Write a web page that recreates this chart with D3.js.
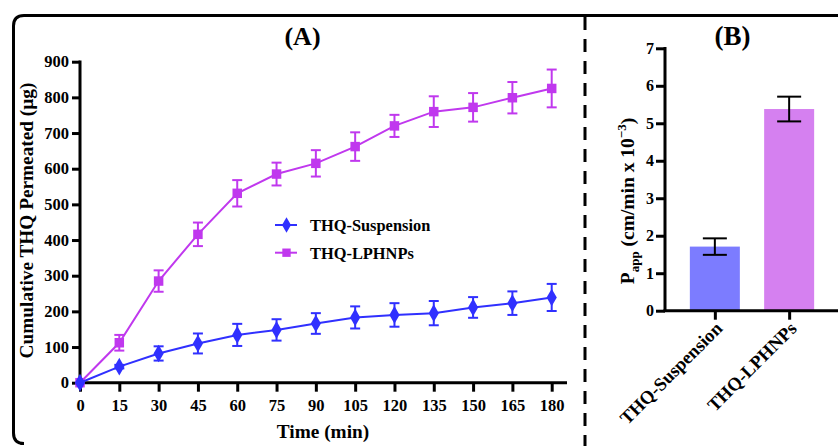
<!DOCTYPE html>
<html>
<head>
<script src="https://d3js.org/d3.v7.min.js"></script>
<style>
  body { margin: 0; background: #fff; }
  text { font-family: "Liberation Serif", "Times New Roman", serif; font-weight: bold; fill: #000; }
</style>
</head>
<body>
<svg width="838" height="446"></svg>
<script>
// Panel A data (cumulative THQ permeated, ug)
var times = [0, 15, 30, 45, 60, 75, 90, 105, 120, 135, 150, 165, 180];
var suspension = [0, 45, 82, 110, 134, 148, 166, 183, 190, 195, 211, 223, 239];
var suspensionErr = [0, 5, 20, 28, 31, 30, 29, 31, 33, 34, 29, 33, 38];
var lphnps = [0, 112, 285, 416, 531, 585, 615, 662, 720, 760, 772, 799, 825];
var lphnpsErr = [0, 22, 30, 33, 37, 32, 37, 40, 31, 43, 40, 44, 53];
var yTicksA = [0, 100, 200, 300, 400, 500, 600, 700, 800, 900];

// Panel B data (Papp, cm/min x 10^-3)
var formulations = ["THQ-Suspension", "THQ-LPHNPs"];
var papp = [1.71, 5.38];
var pappErr = [0.22, 0.33];
var yTicksB = [0, 1, 2, 3, 4, 5, 6, 7];

var blue = "#3030ff", purple = "#c038ee";
var barColors = ["#7c7cff", "#d580f0"];

var svg = d3.select("svg");

// outer frame and divider
svg.append("path")
    .attr("d", "M 850 15.5 L 24 15.5 Q 13.5 15.5 13.5 26 L 13.5 433 Q 13.5 443.5 24 443.5 L 20 443.5")
    .attr("fill", "none").attr("stroke", "#000").attr("stroke-width", 3);
svg.append("line")
    .attr("x1", 585).attr("x2", 585).attr("y1", 17).attr("y2", 446)
    .attr("stroke", "#000").attr("stroke-width", 3).attr("stroke-dasharray", "13,9");

// ---------- Panel A ----------
var x = d3.scaleLinear().domain([0, 180]).range([80, 551.7]);
var y = d3.scaleLinear().domain([0, 900]).range([382.7, 61.7]);

var gA = svg.append("g");

// axes
var xAxis = gA.append("g").attr("transform", "translate(0,382.7)")
    .call(d3.axisBottom(x).tickValues(times).tickSize(9).tickPadding(8));
xAxis.select(".domain").attr("d", "M78,0H567");
var yAxis = gA.append("g").attr("transform", "translate(80,0)")
    .call(d3.axisLeft(y).tickValues(yTicksA).tickSize(8).tickPadding(3));
yAxis.select(".domain").attr("d", "M0,384H0V60.5");
[xAxis, yAxis].forEach(function (a) {
  a.selectAll("path, line").attr("stroke", "#000").attr("stroke-width", 3);
  a.selectAll("text").attr("font-size", 16.5).attr("font-family", "Liberation Serif").attr("font-weight", "bold").attr("fill", "#000");
});

gA.append("text").attr("x", 302.5).attr("y", 45).attr("text-anchor", "middle")
    .attr("font-size", 26).text("(A)");
gA.append("text").attr("x", 323).attr("y", 438).attr("text-anchor", "middle")
    .attr("font-size", 19.3).text("Time (min)");
gA.append("text").attr("transform", "translate(33,220.5) rotate(-90)")
    .attr("text-anchor", "middle").attr("font-size", 19.3)
    .text("Cumulative THQ Permeated (\u00b5g)");

function drawSeries(vals, errs, color, symbol, size) {
  var pts = times.map(function (t, i) { return { t: t, v: vals[i], e: errs[i] }; });
  var g = gA.append("g");
  g.append("path").datum(pts)
      .attr("fill", "none").attr("stroke", color).attr("stroke-width", 2)
      .attr("d", d3.line().x(function (d) { return x(d.t); }).y(function (d) { return y(d.v); }));
  var eb = g.selectAll(".eb").data(pts.filter(function (d) { return d.e > 0; })).enter().append("g")
      .attr("stroke", color).attr("stroke-width", 2);
  eb.append("line").attr("x1", function (d) { return x(d.t); }).attr("x2", function (d) { return x(d.t); })
      .attr("y1", function (d) { return y(d.v + d.e); }).attr("y2", function (d) { return y(d.v - d.e); });
  [1, -1].forEach(function (s) {
    eb.append("line").attr("x1", function (d) { return x(d.t) - 5; }).attr("x2", function (d) { return x(d.t) + 5; })
        .attr("y1", function (d) { return y(d.v + s * d.e); }).attr("y2", function (d) { return y(d.v + s * d.e); });
  });
  g.selectAll(".m").data(pts).enter().append("path")
      .attr("transform", function (d) { return "translate(" + x(d.t) + "," + y(d.v) + ")"; })
      .attr("d", d3.symbol().type(symbol).size(size))
      .attr("fill", color);
}
drawSeries(lphnps, lphnpsErr, purple, d3.symbolSquare, 90);
drawSeries(suspension, suspensionErr, blue, d3.symbolDiamond, 90);

// legend
var legend = [["THQ-Suspension", blue, d3.symbolDiamond], ["THQ-LPHNPs", purple, d3.symbolSquare]];
legend.forEach(function (l, i) {
  var ly = 225 + i * 27.7;
  gA.append("line").attr("x1", 275).attr("x2", 297).attr("y1", ly).attr("y2", ly)
      .attr("stroke", l[1]).attr("stroke-width", 2);
  gA.append("path").attr("transform", "translate(286.5," + ly + ")")
      .attr("d", d3.symbol().type(l[2]).size(70)).attr("fill", l[1]);
  gA.append("text").attr("x", 310).attr("y", ly + 6).attr("font-size", 16.4).text(l[0]);
});

// ---------- Panel B ----------
var xb = d3.scalePoint().domain(formulations).range([665, 839]).padding(0.671);
var yb = d3.scaleLinear().domain([0, 7]).range([310.7, 48.3]);
var barW = 50;
var gB = svg.append("g");

gB.selectAll(".bar").data(formulations).enter().append("rect")
    .attr("x", function (d) { return xb(d) - barW / 2; })
    .attr("width", barW)
    .attr("y", function (d, i) { return yb(papp[i]); })
    .attr("height", function (d, i) { return yb(0) - yb(papp[i]); })
    .attr("fill", function (d, i) { return barColors[i]; });

var ebB = gB.selectAll(".ebb").data(formulations).enter().append("g")
    .attr("stroke", "#000").attr("stroke-width", 2);
ebB.append("line").attr("x1", function (d) { return xb(d); }).attr("x2", function (d) { return xb(d); })
    .attr("y1", function (d, i) { return yb(papp[i] + pappErr[i]); })
    .attr("y2", function (d, i) { return yb(papp[i] - pappErr[i]); });
[1, -1].forEach(function (s) {
  ebB.append("line").attr("x1", function (d) { return xb(d) - 12; }).attr("x2", function (d) { return xb(d) + 12; })
      .attr("y1", function (d, i) { return yb(papp[i] + s * pappErr[i]); })
      .attr("y2", function (d, i) { return yb(papp[i] + s * pappErr[i]); });
});

var xbAxis = gB.append("g").attr("transform", "translate(0,310.7)")
    .call(d3.axisBottom(xb).tickSize(9).tickFormat(""));
xbAxis.select(".domain").attr("d", "M663.5,0H840");
var ybAxis = gB.append("g").attr("transform", "translate(665,0)")
    .call(d3.axisLeft(yb).tickValues(yTicksB).tickFormat(d3.format("d")).tickSize(9).tickPadding(2));
ybAxis.select(".domain").attr("d", "M0,312H0V47");
[xbAxis, ybAxis].forEach(function (a) {
  a.selectAll("path, line").attr("stroke", "#000").attr("stroke-width", 3);
  a.selectAll("text").attr("font-size", 16).attr("font-family", "Liberation Serif").attr("font-weight", "bold").attr("fill", "#000");
});

gB.selectAll(".xl").data(formulations).enter().append("text")
    .attr("transform", function (d) { return "translate(" + (xb(d) + 4) + ",325) rotate(-45)"; })
    .attr("text-anchor", "end").attr("dy", "0.35em").attr("font-size", 18.5)
    .text(function (d) { return d; });

gB.append("text").attr("x", 732.5).attr("y", 45).attr("text-anchor", "middle")
    .attr("font-size", 27).text("(B)");

var yl = gB.append("text").attr("transform", "translate(634,201) rotate(-90)")
    .attr("text-anchor", "middle").attr("font-size", 19.5);
yl.append("tspan").text("P");
yl.append("tspan").attr("font-size", 13).attr("dy", 5).text("app");
yl.append("tspan").attr("dy", -5).text(" (cm/min x 10");
yl.append("tspan").attr("font-size", 13).attr("dy", -8).text("\u22123");
yl.append("tspan").attr("dy", 8).text(")");
</script>
</body>
</html>
